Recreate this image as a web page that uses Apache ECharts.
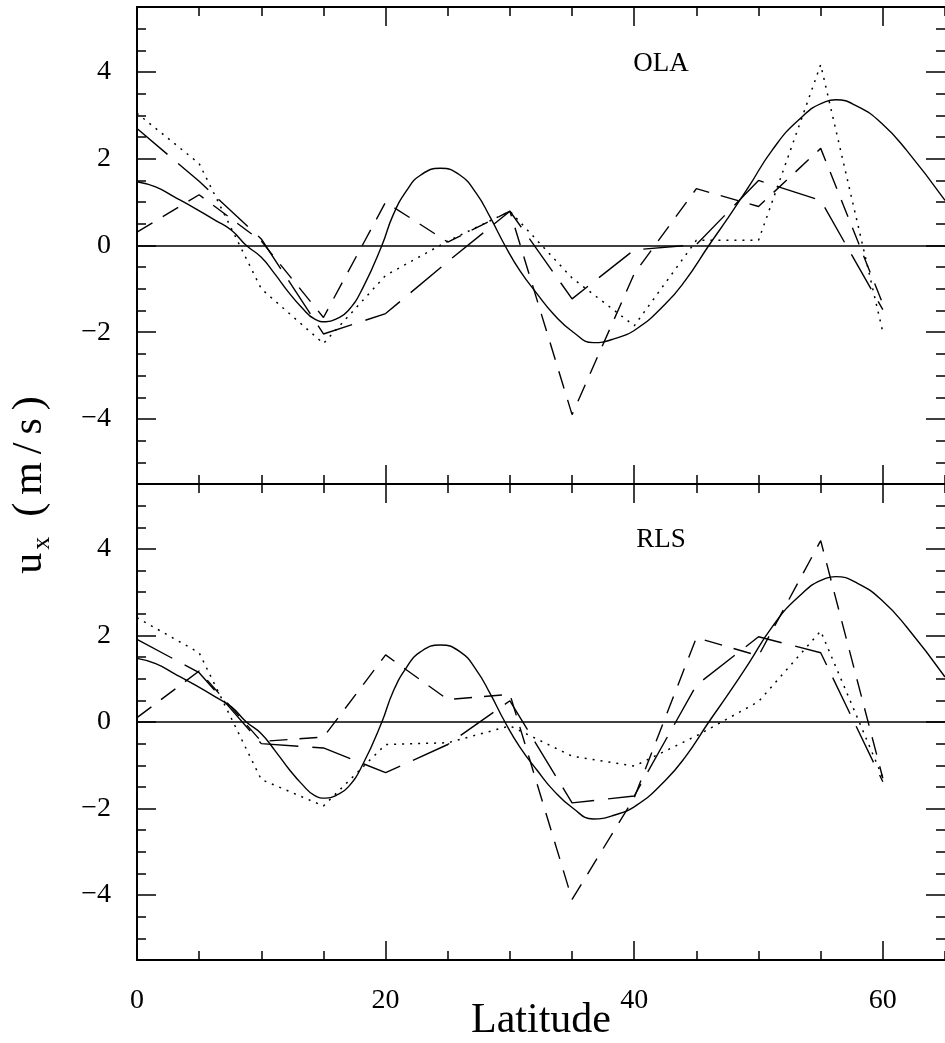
<!DOCTYPE html>
<html><head><meta charset="utf-8">
<script src="https://cdn.jsdelivr.net/npm/echarts@6/dist/echarts.min.js"></script>
<style>html,body{margin:0;padding:0;background:#fff}#c{width:945px;height:1043px}</style>
</head><body><div id="c"></div>
<script>
// ---------- data ----------
const latitudes = [0, 5, 10, 15, 20, 25, 30, 35, 40, 45, 50, 55, 60];

const theoryLat = [0, 1.5, 3, 4.7, 6.3, 7.6, 8.8, 10, 11.1, 12.2, 13.25, 14.3, 15.2, 16, 17, 18.2, 19.7, 20.6, 21.7, 22.8, 24.4, 26, 27.3, 28.4, 29.6, 30.8, 32.2, 33.5, 35.1, 36.7, 38.3, 40.2, 42.5, 44.1, 46, 47.6, 49.2, 51.1, 53.2, 55.4, 56.2, 58, 59.9, 61.9, 65];
const theoryVal = [1.47, 1.35, 1.12, 0.85, 0.58, 0.35, 0, -0.27, -0.66, -1.08, -1.43, -1.7, -1.76, -1.7, -1.5, -0.96, 0, 0.7, 1.27, 1.62, 1.78, 1.62, 1.2, 0.66, 0, -0.58, -1.12, -1.58, -2.0, -2.24, -2.16, -1.92, -1.35, -0.81, 0, 0.66, 1.35, 2.2, 2.89, 3.32, 3.36, 3.2, 2.82, 2.2, 1.04];

const olaDotted    = [3.05, 1.89, -1.0, -2.26, -0.69, 0.1, 0.79, -0.75, -1.85, 0.12, 0.12, 4.17, -2.0];
const olaShortDash = [0.31, 1.17, 0.1, -1.66, 1.0, 0.08, 0.79, -3.9, -0.65, 1.31, 0.9, 2.24, -1.35];
const olaLongDash  = [2.7, 1.48, 0.15, -2.04, -1.57, -0.37, 0.79, -1.23, -0.1, 0.02, 1.5, 1.04, -1.48];

const rlsDotted    = [2.41, 1.6, -1.33, -1.94, -0.52, -0.48, -0.09, -0.79, -1.02, -0.32, 0.47, 2.1, -1.29];
const rlsShortDash = [0.1, 1.18, -0.45, -0.35, 1.55, 0.52, 0.64, -4.1, -1.75, 1.95, 1.53, 4.19, -1.3];
const rlsLongDash  = [1.91, 1.14, -0.5, -0.6, -1.17, -0.52, 0.49, -1.87, -1.71, 0.85, 1.97, 1.6, -1.38];

const panelLabels = ['OLA', 'RLS'];
const xTickLabels = [0, 20, 40, 60];
const yTickLabels = [-4, -2, 0, 2, 4];
const xTitle = 'Latitude';

// ---------- chart ----------
const FONT = 'Liberation Serif';
const BLACK = '#000';
const chart = echarts.init(document.getElementById('c'), null, {renderer: 'canvas'});

const grids = [
  {left: 137, top: 7, width: 808, height: 477, outerBoundsMode: 'none', containLabel: false},
  {left: 137, top: 484, width: 808, height: 476, outerBoundsMode: 'none', containLabel: false}
];

function fmtY(v) { return v < 0 ? '\u2212' + Math.abs(v) : String(v); }

const xAxes = [], yAxes = [];
grids.forEach((g, gi) => {
  ['bottom', 'top'].forEach(pos => {
    const showLab = (gi === 1 && pos === 'bottom');
    xAxes.push({
      gridIndex: gi, type: 'value', position: pos, min: 0, max: 65, interval: 5,
      axisLine: {show: true, onZero: false, lineStyle: {color: BLACK, width: 2}},
      axisTick: {show: true, inside: true, length: 9, lineStyle: {color: BLACK, width: 1.5}},
      axisLabel: {show: showLab, customValues: xTickLabels, margin: 27, color: BLACK,
        fontFamily: FONT, fontSize: 28,
        formatter: v => xTickLabels.indexOf(v) >= 0 ? String(v) : ''},
      splitLine: {show: false}
    });
    xAxes.push({
      gridIndex: gi, type: 'value', position: pos, min: 0, max: 65, interval: 5,
      axisLine: {show: false, onZero: false},
      axisTick: {show: true, inside: true, length: 19, customValues: xTickLabels, lineStyle: {color: BLACK, width: 1.5}},
      axisLabel: {show: false}, splitLine: {show: false}
    });
  });
  ['left', 'right'].forEach(pos => {
    const showLab = (pos === 'left');
    yAxes.push({
      gridIndex: gi, type: 'value', position: pos, min: -5.5, max: 5.5, interval: 0.5,
      axisLine: {show: pos === 'left', onZero: false, lineStyle: {color: BLACK, width: 2}},
      axisTick: {show: true, inside: true, length: 9, lineStyle: {color: BLACK, width: 1.5}},
      axisLabel: {show: showLab, customValues: yTickLabels, margin: 26, color: BLACK,
        fontFamily: FONT, fontSize: 28,
        formatter: v => yTickLabels.indexOf(v) >= 0 ? fmtY(v) : ''},
      splitLine: {show: false}
    });
    yAxes.push({
      gridIndex: gi, type: 'value', position: pos, min: -5.5, max: 5.5, interval: 0.5,
      axisLine: {show: false, onZero: false},
      axisTick: {show: true, inside: true, length: 19, customValues: yTickLabels, lineStyle: {color: BLACK, width: 1.5}},
      axisLabel: {show: false}, splitLine: {show: false}
    });
  });
});

function pairs(xs, ys) { return xs.map((x, i) => [x, ys[i]]); }

const panels = [
  {dotted: olaDotted, shortD: olaShortDash, longD: olaLongDash},
  {dotted: rlsDotted, shortD: rlsShortDash, longD: rlsLongDash}
];

const series = [];
panels.forEach((p, gi) => {
  const base = {type: 'line', xAxisIndex: gi * 4, yAxisIndex: gi * 4, symbol: 'none', silent: true, animation: false};
  series.push(Object.assign({}, base, {
    name: 'theory' + gi, data: pairs(theoryLat, theoryVal), smooth: 0.5,
    lineStyle: {color: BLACK, width: 1.4, type: 'solid'},
    markLine: {silent: true, symbol: 'none', label: {show: false}, animation: false,
      lineStyle: {color: BLACK, width: 1.6, type: 'solid'}, data: [{yAxis: 0}]}
  }));
  series.push(Object.assign({}, base, {
    name: 'dotted' + gi, data: pairs(latitudes, p.dotted),
    lineStyle: {color: BLACK, width: 1.5, type: [2, 6]}
  }));
  series.push(Object.assign({}, base, {
    name: 'short' + gi, data: pairs(latitudes, p.shortD),
    lineStyle: {color: BLACK, width: 1.4, type: [18, 12]}
  }));
  series.push(Object.assign({}, base, {
    name: 'long' + gi, data: pairs(latitudes, p.longD),
    lineStyle: {color: BLACK, width: 1.4, type: [40, 14]}
  }));
});

const titleRich = {
  u: {fontFamily: FONT, fontSize: 42, lineHeight: 50, fill: BLACK, padding: [0, 3, 0, 0]},
  s: {fontFamily: FONT, fontSize: 26, lineHeight: 26, verticalAlign: 'bottom', fill: BLACK, padding: [0, 16, 0, 0]},
  c: {fontFamily: FONT, fontSize: 42, lineHeight: 50, fill: BLACK, padding: [0, 4, 0, 4]}
};

const option = {
  backgroundColor: '#fff',
  animation: false,
  grid: grids,
  xAxis: xAxes,
  yAxis: yAxes,
  series: series,
  graphic: [
    {type: 'text', x: 661, y: 64, style: {text: panelLabels[0], fill: BLACK, font: '27px "Liberation Serif"', align: 'center', verticalAlign: 'middle'}},
    {type: 'text', x: 661, y: 540, style: {text: panelLabels[1], fill: BLACK, font: '27px "Liberation Serif"', align: 'center', verticalAlign: 'middle'}},
    {type: 'text', x: 541, y: 1021, style: {text: xTitle, fill: BLACK, font: '42px "Liberation Serif"', align: 'center', verticalAlign: 'middle'}},
    {type: 'text', x: 30, y: 483, rotation: Math.PI / 2,
      style: {text: '{u|u}{s|x}{c|(}{c|m}{c|/}{c|s}{c|)}', align: 'center', verticalAlign: 'middle', fill: BLACK,
        rich: titleRich}}
  ]
};
chart.setOption(option);
</script></body></html>
